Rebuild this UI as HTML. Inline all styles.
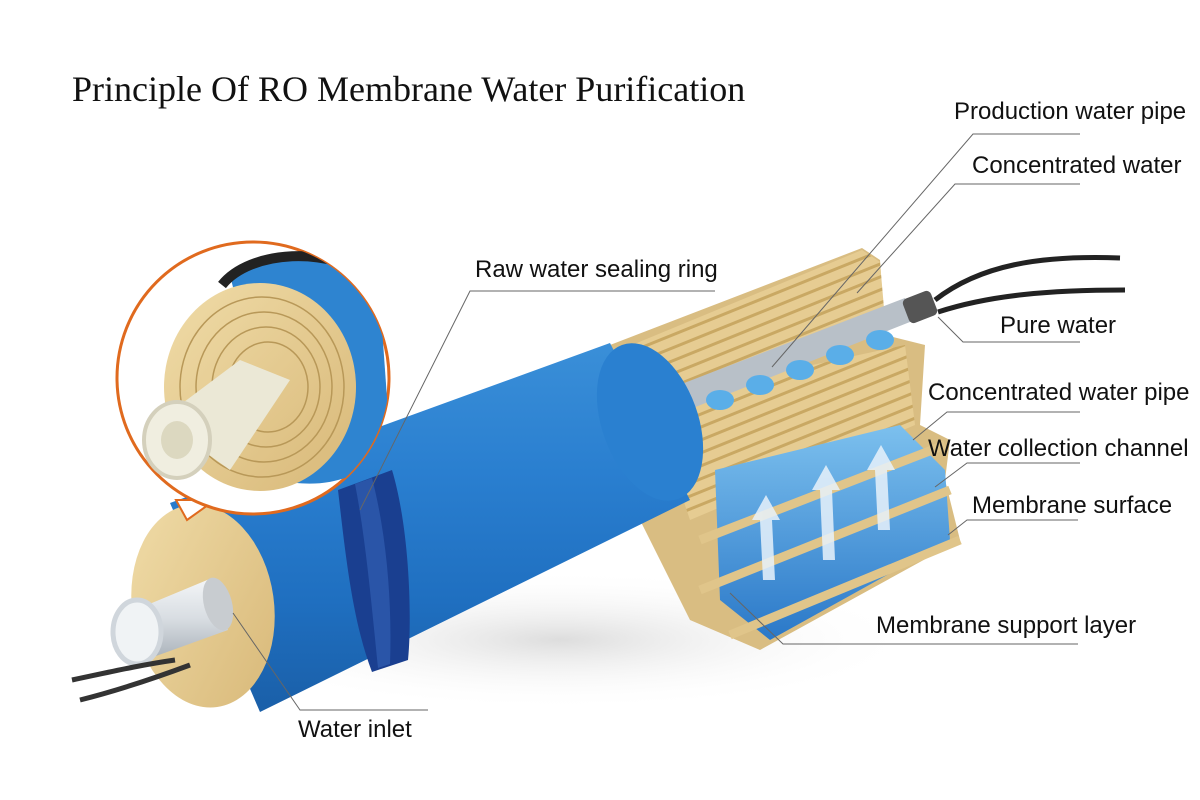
<!DOCTYPE html>
<html><head><meta charset="utf-8"><style>
html,body{margin:0;padding:0;background:#fff;}
svg{display:block}
</style></head><body>
<svg width="1200" height="800" viewBox="0 0 1200 800" xmlns="http://www.w3.org/2000/svg">
<defs>
<linearGradient id="blue" x1="0" y1="0" x2="0" y2="1">
<stop offset="0" stop-color="#3a8fd8"/><stop offset="0.35" stop-color="#2a7fd0"/><stop offset="0.7" stop-color="#1f6fc0"/><stop offset="1" stop-color="#1a5fa8"/></linearGradient>
<linearGradient id="beige" x1="0" y1="0" x2="1" y2="1">
<stop offset="0" stop-color="#f0dca8"/><stop offset="1" stop-color="#d8b878"/></linearGradient>
<linearGradient id="pipe" x1="0" y1="0" x2="0" y2="1">
<stop offset="0" stop-color="#f4f6f8"/><stop offset="0.5" stop-color="#d8dde2"/><stop offset="1" stop-color="#a8b0b8"/></linearGradient>
<linearGradient id="water" x1="0" y1="0" x2="0" y2="1">
<stop offset="0" stop-color="#7cc0ee"/><stop offset="1" stop-color="#2a78c8"/></linearGradient>
<radialGradient id="shadow" cx="0.5" cy="0.5" r="0.5"><stop offset="0" stop-color="#ddd"/><stop offset="1" stop-color="#fff" stop-opacity="0"/></radialGradient>
<pattern id="stripes" width="12" height="12" patternUnits="userSpaceOnUse" patternTransform="rotate(-22)">
<rect width="12" height="12" fill="#e6cc92"/><rect y="9" width="12" height="3" fill="#c9a863"/></pattern>
<clipPath id="inset"><circle cx="253" cy="378" r="136"/></clipPath>
</defs>

<text x="72" y="101" font-family="Liberation Serif, serif" font-size="36" fill="#111">Principle Of RO Membrane Water Purification</text>

<ellipse cx="560" cy="640" rx="360" ry="70" fill="url(#shadow)"/>

<!-- layers block right -->
<polygon points="610,345 862,248 880,260 885,335 925,345 920,425 950,440 945,480 960,540 760,650 690,620 640,520" fill="#d9bd82"/>
<polygon points="620,350 862,250 880,262 885,320 640,450" fill="url(#stripes)"/>
<polygon points="650,400 905,345 915,425 690,520" fill="url(#stripes)"/>
<polygon points="715,470 900,425 945,470 950,540 770,640 720,600" fill="url(#water)"/>
<g stroke="#e0c58a" stroke-width="9" fill="none">
<line x1="700" y1="540" x2="945" y2="445"/>
<line x1="700" y1="590" x2="950" y2="490"/>
<line x1="730" y1="635" x2="960" y2="540"/>
</g>
<g fill="#e8f2fb" opacity="0.85">
<polygon points="760,520 752,520 766,495 780,520 772,520 775,580 763,580"/>
<polygon points="820,490 812,490 826,465 840,490 832,490 835,560 823,560"/>
<polygon points="875,470 867,470 881,445 895,470 887,470 890,530 878,530"/>
</g>
<polygon points="640,400 905,298 915,320 650,425" fill="#b8c0c8"/>
<rect x="905" y="294" width="30" height="26" rx="5" fill="#555" transform="rotate(-21 920 307)"/>
<path d="M935 300 C980 265 1040 255 1120 258 M938 312 C990 295 1050 290 1125 290" stroke="#222" stroke-width="5" fill="none"/>
<g fill="#5aaee8">
<ellipse cx="720" cy="400" rx="14" ry="10"/><ellipse cx="760" cy="385" rx="14" ry="10"/><ellipse cx="800" cy="370" rx="14" ry="10"/><ellipse cx="840" cy="355" rx="14" ry="10"/><ellipse cx="880" cy="340" rx="14" ry="10"/>
</g>

<!-- blue cylinder -->
<polygon points="170,503 610,343 690,500 260,712" fill="url(#blue)"/>
<ellipse cx="650" cy="422" rx="48" ry="82" transform="rotate(-20 650 422)" fill="#2a80d0"/>
<!-- sealing ring -->
<path d="M338 490 L392 470 C410 530 412 620 408 660 L372 672 C352 620 345 550 338 490 Z" fill="#1a3f90"/>
<path d="M355 484 L372 478 C388 540 392 610 390 664 L378 668 C372 610 366 540 355 484 Z" fill="#2a55a8"/>
<!-- left cap -->
<ellipse cx="203" cy="606" rx="71" ry="102" transform="rotate(-8 203 606)" fill="url(#beige)"/>
<polygon points="135,610 212,578 228,630 145,660" fill="url(#pipe)"/>
<ellipse cx="218" cy="604" rx="14" ry="27" transform="rotate(-15 218 604)" fill="#c8ccd0"/>
<ellipse cx="137" cy="632" rx="24" ry="32" fill="#f0f3f5" stroke="#d0d6dc" stroke-width="5"/>
<path d="M72 680 C110 672 140 665 175 660 M80 700 C120 690 155 678 190 665" stroke="#333" stroke-width="5" fill="none"/>

<!-- inset circle -->
<path d="M176 500 L187 520 L215 500 Z" fill="#fff" stroke="#e06a1e" stroke-width="2"/>
<circle cx="253" cy="378" r="136" fill="#fff" stroke="#e06a1e" stroke-width="3"/>
<g clip-path="url(#inset)">
<path d="M230 275 C270 245 350 250 380 300 L390 440 C370 480 320 490 280 480 Z" fill="#2e84d0"/>
<path d="M222 285 C250 250 330 245 375 280" stroke="#222" stroke-width="10" fill="none"/>
<ellipse cx="260" cy="387" rx="96" ry="104" fill="url(#beige)"/>
<g fill="none" stroke="#b89858" stroke-width="1.5">
<ellipse cx="262" cy="387" rx="82" ry="90"/><ellipse cx="264" cy="387" rx="68" ry="75"/><ellipse cx="266" cy="387" rx="54" ry="60"/><ellipse cx="268" cy="387" rx="40" ry="45"/>
</g>
<polygon points="160,420 240,360 290,380 230,470" fill="#ebe8d6"/>
<ellipse cx="177" cy="440" rx="33" ry="38" fill="#f0eee0" stroke="#d4d0bc" stroke-width="4"/>
<ellipse cx="177" cy="440" rx="16" ry="19" fill="#dcd8c0"/>
</g>

<!-- leader lines -->
<g stroke="#666" stroke-width="1" fill="none">
<polyline points="772,367 973,134 1080,134"/>
<polyline points="857,293 955,184 1080,184"/>
<polyline points="938,317 963,342 1080,342"/>
<polyline points="913,440 947,412 1080,412"/>
<polyline points="935,487 967,463 1080,463"/>
<polyline points="948,535 967,520 1078,520"/>
<polyline points="730,593 783,644 1078,644"/>
<polyline points="360,510 470,291 715,291"/>
<polyline points="233,613 300,710 428,710"/>
</g>
<g font-family="Liberation Sans, sans-serif" font-size="24" fill="#111">
<text x="954" y="119">Production water pipe</text>
<text x="972" y="173">Concentrated water</text>
<text x="1000" y="333">Pure water</text>
<text x="928" y="400">Concentrated water pipe</text>
<text x="928" y="456">Water collection channel</text>
<text x="972" y="513">Membrane surface</text>
<text x="876" y="633">Membrane support layer</text>
<text x="475" y="277">Raw water sealing ring</text>
<text x="298" y="737">Water inlet</text>
</g>
</svg>
</body></html>
